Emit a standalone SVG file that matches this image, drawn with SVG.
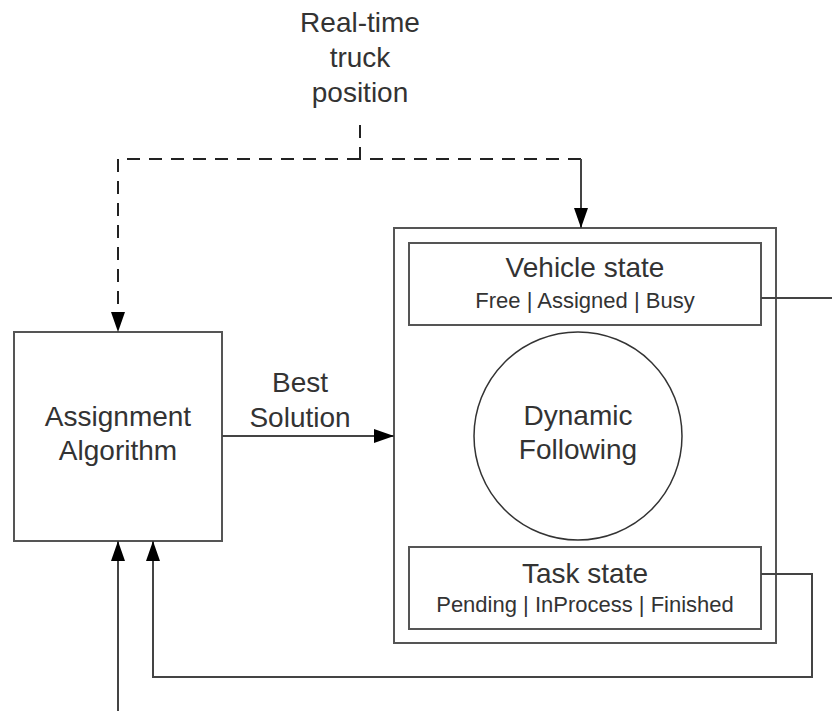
<svg xmlns="http://www.w3.org/2000/svg" width="832" height="711" viewBox="0 0 832 711">
<defs>
<style>
.t{font-family:"Liberation Sans",Arial,sans-serif;font-size:28px;fill:#333;text-anchor:middle}
.s{font-family:"Liberation Sans",Arial,sans-serif;font-size:22px;fill:#333;text-anchor:middle}
.box{fill:#fff;stroke:#555;stroke-width:2}
.ln{fill:none;stroke:#444;stroke-width:2}
.dash{fill:none;stroke:#222;stroke-width:2;stroke-dasharray:13 9}
</style>
<marker id="ah" viewBox="0 0 20 14" refX="20" refY="7" markerWidth="20" markerHeight="14" markerUnits="userSpaceOnUse" orient="auto">
<path d="M0,0 L20,7 L0,14 Z" fill="#000"/>
</marker>
</defs>
<rect width="832" height="711" fill="#fff"/>
<g id="label-realtime">
<text class="t" x="360" y="32">Real-time</text>
<text class="t" x="360" y="67">truck</text>
<text class="t" x="360" y="102">position</text>
</g>
<g id="assignment">
<rect class="box" x="14" y="332" width="208" height="209"/>
<text class="t" x="118" y="426">Assignment</text>
<text class="t" x="118" y="460">Algorithm</text>
</g>
<g id="container">
<rect class="box" x="394" y="228" width="382" height="415"/>
</g>
<g id="vehicle">
<rect class="box" x="409" y="243" width="352" height="82"/>
<text class="t" x="585" y="277">Vehicle state</text>
<text class="s" x="585" y="308">Free | Assigned | Busy</text>
</g>
<g id="dynamic">
<circle cx="578" cy="436" r="104" fill="#fff" stroke="#333" stroke-width="1.5"/>
<text class="t" x="578" y="425">Dynamic</text>
<text class="t" x="578" y="459">Following</text>
</g>
<g id="task">
<rect class="box" x="409" y="547" width="352" height="82"/>
<text class="t" x="585" y="583">Task state</text>
<text class="s" x="585" y="612">Pending | InProcess | Finished</text>
</g>
<g id="connectors">
<path class="dash" d="M360,125 V159 H581"/>
<path class="dash" d="M360,159 H118 V332" marker-end="url(#ah)"/>
<path class="ln" d="M581,159 V228" marker-end="url(#ah)"/>
<path class="ln" d="M222,436 H394" marker-end="url(#ah)"/>
<path class="ln" d="M761,298 H832"/>
<path class="ln" d="M761,574 H812 V677 H153 V541" marker-end="url(#ah)"/>
<path class="ln" d="M118,711 V541" marker-end="url(#ah)"/>
<text class="t" x="300" y="392">Best</text>
<text class="t" x="300" y="427">Solution</text>
</g>
</svg>
